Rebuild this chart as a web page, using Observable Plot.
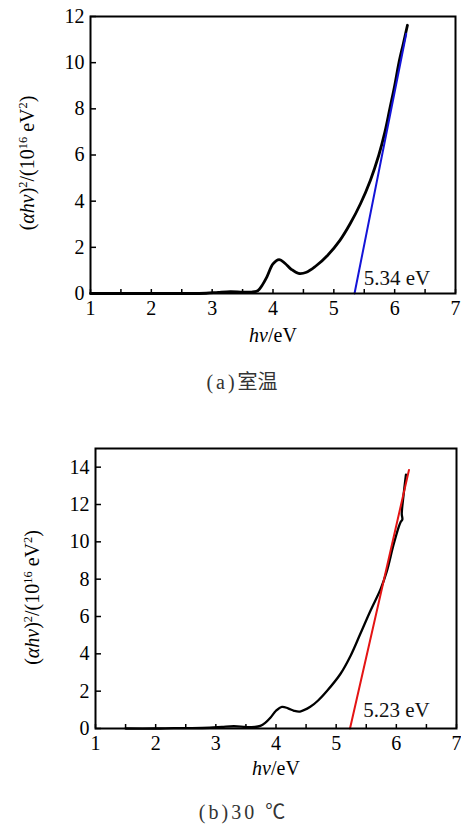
<!DOCTYPE html>
<html>
<head>
<meta charset="utf-8">
<script src="https://cdn.jsdelivr.net/npm/d3@7"></script>
<script src="https://cdn.jsdelivr.net/npm/@observablehq/plot@0.6"></script>
<style>
  html, body { margin: 0; padding: 0; background: #fff; }
  #page { position: relative; width: 461px; height: 828px; overflow: hidden; }
  .panel { position: absolute; left: 0; }
  .cap { position: absolute; transform: translateX(-50%); white-space: nowrap; line-height: 20px; color: #333; }
  .cap .lat { font-family: 'Liberation Serif'; font-size: 20px; letter-spacing: 3px; }
  .cap .cjk { font-family: 'Noto Sans CJK SC'; font-size: 20px; }
</style>
</head>
<body>
<div id="page"></div>
<script>
// ---- data ----
// Panel (a): room temperature
const hvA  = [1.0, 1.5, 2.0, 2.5, 2.9, 3.1, 3.3, 3.5, 3.65, 3.75, 3.82, 3.90, 4.00, 4.10, 4.20, 4.30, 4.42, 4.55, 4.70, 4.90, 5.10, 5.27, 5.44, 5.60, 5.74, 5.84, 5.92, 6.00, 6.07, 6.14, 6.21];
const valA = [0.0, 0.0, 0.0, 0.0, 0.01, 0.05, 0.08, 0.06, 0.06, 0.12, 0.35, 0.72, 1.28, 1.47, 1.30, 1.05, 0.87, 0.92, 1.18, 1.66, 2.30, 3.03, 3.90, 4.90, 6.0, 7.0, 8.0, 9.0, 10.0, 10.8, 11.62];
const fitHvA = [5.34, 6.19];
const fitValA = [0, 11.25];
// Panel (b): 30 °C
const hvB  = [1.5, 2.0, 2.3, 2.6, 2.9, 3.1, 3.3, 3.5, 3.65, 3.74, 3.82, 3.91, 4.00, 4.10, 4.20, 4.30, 4.40, 4.57, 4.70, 4.85, 5.07, 5.24, 5.40, 5.57, 5.74, 5.84, 5.95, 6.04, 6.07, 6.10, 6.09, 6.12, 6.16];
const valB = [0.0, 0.0, 0.02, 0.02, 0.04, 0.08, 0.12, 0.08, 0.08, 0.14, 0.30, 0.59, 0.95, 1.16, 1.08, 0.95, 0.91, 1.16, 1.50, 2.02, 2.92, 3.90, 5.06, 6.31, 7.48, 8.4, 9.8, 10.8, 11.05, 11.2, 11.5, 12.5, 13.6];
const fitHvB = [5.23, 6.21];
const fitValB = [0, 13.85];

const xTicks = [1, 2, 3, 4, 5, 6, 7];
const xMinorTicks = [1.5, 2.5, 3.5, 4.5, 5.5, 6.5];
const yTicksA = [0, 2, 4, 6, 8, 10, 12];
const yTicksB = [0, 2, 4, 6, 8, 10, 12, 14];
const gapTextA = [{x: 5.49, y: 0.36, label: "5.34 eV"}];
const gapTextB = [{x: 5.45, y: 0.63, label: "5.23 eV"}];
const xLabelParts = [["hν", "i"], ["/eV", ""]];
const yLabelParts = [["(", ""], ["αhν", "i"], [")", ""], ["2", "sup"], ["/(10", ""], ["16", "sup"], [" eV", ""], ["2", "sup"], [")", ""]];
const captionA = [["(a)", "lat"], ["室温", "cjk"]];
const captionB = [["(b)30 ", "lat"], ["℃", "cjk"]];

const W = 461;
const SERIF = "Liberation Serif";
const xLabel = xLabelParts.map(d => d[0]).join("");
const yLabel = yLabelParts.map(d => d[0]).join("");

function styleParts(svg, plain, parts) {
  svg.querySelectorAll("text").forEach(t => {
    if (t.textContent === plain && t.children.length === 0) {
      t.textContent = "";
      for (const [s, kind] of parts) {
        const ts = document.createElementNS("http://www.w3.org/2000/svg", "tspan");
        ts.textContent = s;
        if (kind === "i") ts.setAttribute("font-style", "italic");
        if (kind === "sup") { ts.setAttribute("baseline-shift", "super"); ts.setAttribute("font-size", "0.62em"); }
        t.appendChild(ts);
      }
    }
  });
}

function panel(o) {
  const fw = W - o.mL - o.mR, fh = o.H - o.mT - o.mB;
  const curve = o.hv.map((x, i) => ({x, y: o.val[i]}));
  const fit = o.fitX.map((x, i) => ({x, y: o.fitY[i]}));
  const svg = Plot.plot({
    width: W, height: o.H,
    marginLeft: o.mL, marginRight: o.mR, marginTop: o.mT, marginBottom: o.mB,
    style: `font-family: '${SERIF}'; font-size: 20px; background: transparent; color: #000; overflow: visible;`,
    x: {domain: [1, 7], ticks: xTicks, tickSize: 0, tickPadding: 7, label: null, tickFormat: d => String(d)},
    y: {domain: o.yDomain, ticks: o.yTicks, tickSize: 0, tickPadding: 6, label: null, tickFormat: d => String(d)},
    marks: [
      Plot.tickX(xTicks.concat(xMinorTicks), {x: d => d, insetTop: fh - 4, stroke: "#000", strokeWidth: 1.5}),
      Plot.tickY(o.yTicks, {y: d => d, insetRight: fw - 6, stroke: "#000", strokeWidth: 1.5}),
      Plot.line(curve, {x: "x", y: "y", curve: "catmull-rom", stroke: "#000", strokeWidth: o.lw}),
      Plot.line(fit, {x: "x", y: "y", stroke: o.fitColor, strokeWidth: 2}),
      Plot.frame({stroke: "#000", strokeWidth: 2}),
      Plot.text(o.gap, {x: "x", y: "y", text: "label", textAnchor: "start", lineAnchor: "bottom", fontSize: 21, fill: "#111"}),
      Plot.text([xLabel], {frameAnchor: "bottom", textAnchor: "middle", lineAnchor: "middle", dy: o.xlDy, fontSize: 20}),
      Plot.text([yLabel], {frameAnchor: "left", textAnchor: "middle", lineAnchor: "middle", rotate: -90, dx: o.ylDx, dy: o.ylDy, fontSize: 20})
    ]
  });
  svg.setAttribute("font-family", SERIF);
  svg.querySelectorAll("g, text").forEach(el => {
    if (el.hasAttribute("font-family")) el.setAttribute("font-family", SERIF);
  });
  styleParts(svg, xLabel, xLabelParts);
  styleParts(svg, yLabel, yLabelParts);
  return svg;
}

const page = document.getElementById("page");

const a = panel({hv: hvA, val: valA, fitX: fitHvA, fitY: fitValA, fitColor: "#1414d8",
  yDomain: [0, 12], yTicks: yTicksA, gap: gapTextA,
  H: 345, mL: 90, mR: 6, mT: 16, mB: 52, lw: 2.8, xlDy: 42, ylDx: -63, ylDy: 8});
const divA = document.createElement("div"); divA.className = "panel"; divA.style.top = "0px";
divA.appendChild(a); page.appendChild(divA);

const b = panel({hv: hvB, val: valB, fitX: fitHvB, fitY: fitValB, fitColor: "#e41414",
  yDomain: [0, 15], yTicks: yTicksB, gap: gapTextB,
  H: 350, mL: 95, mR: 5, mT: 18, mB: 52, lw: 2.3, xlDy: 40, ylDx: -63, ylDy: 9});
const divB = document.createElement("div"); divB.className = "panel"; divB.style.top = "430px";
divB.appendChild(b); page.appendChild(divB);

for (const [parts, top] of [[captionA, 371], [captionB, 801]]) {
  const c = document.createElement("div");
  c.className = "cap";
  for (const [s, cls] of parts) {
    const sp = document.createElement("span");
    sp.className = cls; sp.textContent = s;
    c.appendChild(sp);
  }
  c.style.left = "242px"; c.style.top = top + "px";
  page.appendChild(c);
}
</script>
</body>
</html>
